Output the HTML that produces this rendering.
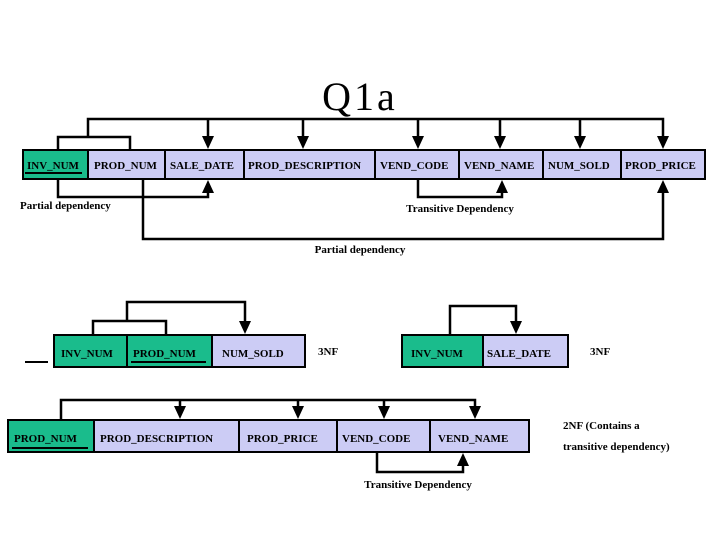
<!DOCTYPE html>
<html><head><style>
body{margin:0;background:#fff}
svg text{font-family:"Liberation Serif",serif;font-weight:bold;font-size:11px;fill:#000}
</style></head><body>
<svg width="720" height="540" viewBox="0 0 720 540" xmlns="http://www.w3.org/2000/svg">
<defs><marker id="a" viewBox="0 0 10 10" refX="10" refY="5" markerWidth="4" markerHeight="4" orient="auto" markerUnits="userSpaceOnUse"></marker></defs>
<text x="360" y="110" text-anchor="middle" style="font-size:40px;font-weight:normal;letter-spacing:3px">Q1a</text>
<g stroke="#000" stroke-width="2">
<rect x="23" y="150" width="65" height="29" fill="#1abc8c"/>
<rect x="88" y="150" width="77" height="29" fill="#ccccf5"/>
<rect x="165" y="150" width="79" height="29" fill="#ccccf5"/>
<rect x="244" y="150" width="131" height="29" fill="#ccccf5"/>
<rect x="375" y="150" width="84" height="29" fill="#ccccf5"/>
<rect x="459" y="150" width="84" height="29" fill="#ccccf5"/>
<rect x="543" y="150" width="78" height="29" fill="#ccccf5"/>
<rect x="621" y="150" width="84" height="29" fill="#ccccf5"/>
<rect x="54" y="335" width="73" height="32" fill="#1abc8c"/>
<rect x="127" y="335" width="85" height="32" fill="#1abc8c"/>
<rect x="212" y="335" width="93" height="32" fill="#ccccf5"/>
<rect x="402" y="335" width="81" height="32" fill="#1abc8c"/>
<rect x="483" y="335" width="85" height="32" fill="#ccccf5"/>
<rect x="8" y="420" width="86" height="32" fill="#1abc8c"/>
<rect x="94" y="420" width="145" height="32" fill="#ccccf5"/>
<rect x="239" y="420" width="98" height="32" fill="#ccccf5"/>
<rect x="337" y="420" width="93" height="32" fill="#ccccf5"/>
<rect x="430" y="420" width="99" height="32" fill="#ccccf5"/>
<g fill="none" stroke-width="2.5">
<path d="M88 137V119H663V142"/>
<path d="M58 150V137H130V150"/>
<path d="M208 119V142M303 119V142M418 119V142M500 119V142M580 119V142"/>
<path d="M58 179V197H208V187"/>
<path d="M143 179V239H663V187"/>
<path d="M418 179V197H502V187"/>
<path d="M93 335V321H166V335"/>
<path d="M127 321V302H245V327"/>
<path d="M450 335V306H516V327"/>
<path d="M61 420V400H475V412M180 400V412M298 400V412M384 400V412"/>
<path d="M377 452V472H463V460"/>
<path d="M25 173H82M25 362H48M131 362H206M12 448H88" stroke-width="2"/>
</g>
</g>
<g fill="#000">
<path d="M202 136H214L208 149Z"/><path d="M297 136H309L303 149Z"/><path d="M412 136H424L418 149Z"/><path d="M494 136H506L500 149Z"/><path d="M574 136H586L580 149Z"/><path d="M657 136H669L663 149Z"/>
<path d="M202 193H214L208 180Z"/><path d="M657 193H669L663 180Z"/><path d="M496 193H508L502 180Z"/>
<path d="M239 321H251L245 334Z"/><path d="M510 321H522L516 334Z"/>
<path d="M174 406H186L180 419Z"/><path d="M292 406H304L298 419Z"/><path d="M378 406H390L384 419Z"/><path d="M469 406H481L475 419Z"/>
<path d="M457 466H469L463 453Z"/>
</g>
<text x="27" y="169">INV_NUM</text>
<text x="94" y="169">PROD_NUM</text>
<text x="170" y="169">SALE_DATE</text>
<text x="248" y="169">PROD_DESCRIPTION</text>
<text x="380" y="169">VEND_CODE</text>
<text x="464" y="169">VEND_NAME</text>
<text x="548" y="169">NUM_SOLD</text>
<text x="625" y="169">PROD_PRICE</text>
<text x="20" y="209">Partial dependency</text>
<text x="460" y="212" text-anchor="middle">Transitive Dependency</text>
<text x="360" y="253" text-anchor="middle">Partial dependency</text>
<text x="61" y="357">INV_NUM</text>
<text x="133" y="357">PROD_NUM</text>
<text x="222" y="357">NUM_SOLD</text>
<text x="318" y="355">3NF</text>
<text x="411" y="357">INV_NUM</text>
<text x="487" y="357">SALE_DATE</text>
<text x="590" y="355">3NF</text>
<text x="14" y="442">PROD_NUM</text>
<text x="100" y="442">PROD_DESCRIPTION</text>
<text x="247" y="442">PROD_PRICE</text>
<text x="342" y="442">VEND_CODE</text>
<text x="438" y="442">VEND_NAME</text>
<text x="418" y="488" text-anchor="middle">Transitive Dependency</text>
<text x="563" y="429">2NF (Contains a</text>
<text x="563" y="450">transitive dependency)</text>
</svg>
</body></html>
